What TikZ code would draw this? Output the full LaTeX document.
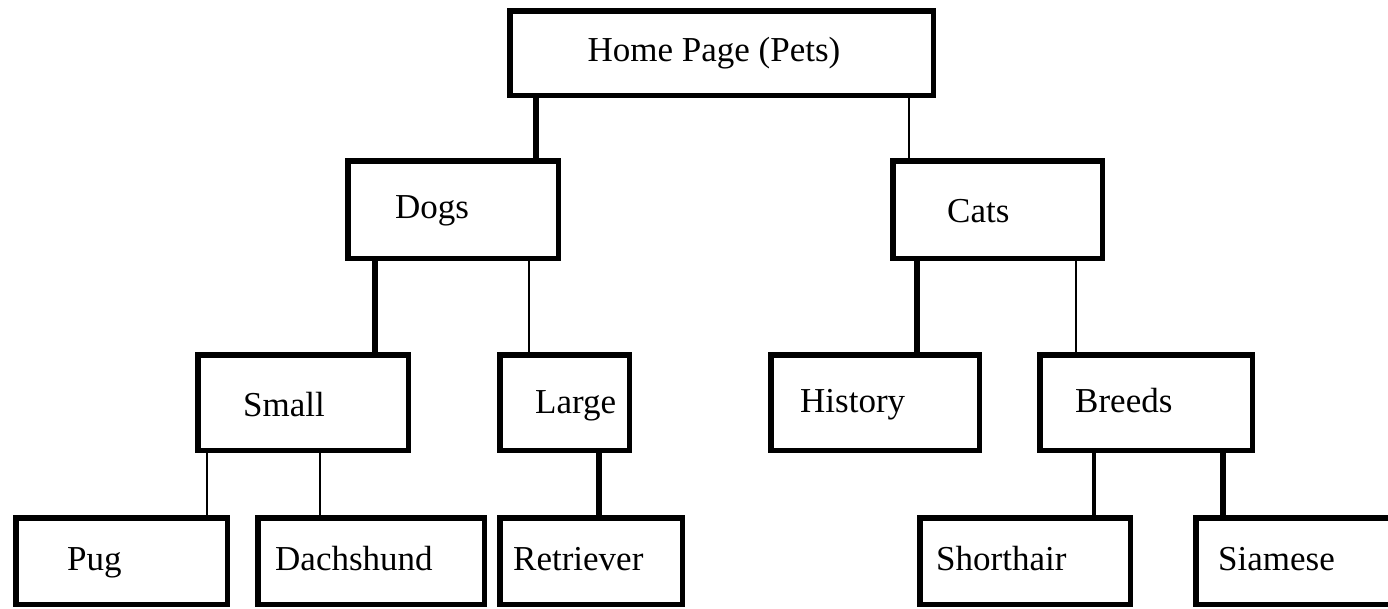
\documentclass[tikz,border=0pt]{standalone}
\usepackage{fontspec}
\setmainfont{Liberation Serif}
\begin{document}
\begin{tikzpicture}[x=1pt,y=-1pt,
  box/.style={draw=black, line width=5.5pt, rectangle, inner sep=0pt},
  lbl/.style={inner sep=0pt, anchor=base west, font=\fontsize{35}{40}\selectfont},
  heavy/.style={draw=black, line width=6pt},
  light/.style={draw=black, line width=2pt},
  medium/.style={draw=black, line width=3.5pt}]
\clip (0,0) rectangle (1388,608);
\fill[white] (0,0) rectangle (1388,608);

% level 0
\node[box, minimum width=423.5pt, minimum height=84.5pt] (home) at (721.5,53) {};
% level 1
\node[box, minimum width=210.5pt, minimum height=97.5pt] (dogs) at (453,209.5) {};
\node[box, minimum width=209.5pt, minimum height=97.5pt] (cats) at (997.5,209.5) {};
% level 2
\node[box, minimum width=210.5pt, minimum height=95.5pt] (small) at (303,402.5) {};
\node[box, minimum width=129.5pt, minimum height=95.5pt] (large) at (564.5,402.5) {};
\node[box, minimum width=208.5pt, minimum height=95.5pt] (history) at (875,402.5) {};
\node[box, minimum width=212.5pt, minimum height=95.5pt] (breeds) at (1146,402.5) {};
% level 3
\node[box, minimum width=211.5pt, minimum height=86.5pt] (pug) at (121.5,561) {};
\node[box, minimum width=226.5pt, minimum height=86.5pt] (dachshund) at (371,561) {};
\node[box, minimum width=182.5pt, minimum height=86.5pt] (retriever) at (591,561) {};
\node[box, minimum width=210.5pt, minimum height=86.5pt] (shorthair) at (1025,561) {};
\node[box, minimum width=201.5pt, minimum height=86.5pt] (siamese) at (1296.5,561) {};

% labels
\node[lbl, anchor=base] (homeT) at (714,61) {Home Page (Pets)};
\node[lbl] (dogsT) at (395,218) {Dogs};
\node[lbl] (catsT) at (947,222) {Cats};
\node[lbl] (smallT) at (243,416) {Small};
\node[lbl] (largeT) at (535,413) {Large};
\node[lbl] (historyT) at (800,412) {History};
\node[lbl] (breedsT) at (1075,412) {Breeds};
\node[lbl] (pugT) at (67,570) {Pug};
\node[lbl] (dachshundT) at (275,570) {Dachshund};
\node[lbl] (retrieverT) at (513,570) {Retriever};
\node[lbl] (shorthairT) at (936,570) {Shorthair};
\node[lbl] (siameseT) at (1218,570) {Siamese};

% connectors
\draw[heavy]  (home.south -| 536,0)    -- (dogs.north -| 536,0);
\draw[light]  (home.south -| 909,0)    -- (cats.north -| 909,0);
\draw[heavy]  (dogs.south -| 375,0)    -- (small.north -| 375,0);
\draw[light]  (dogs.south -| 529,0)    -- (large.north -| 529,0);
\draw[heavy]  (cats.south -| 917,0)    -- (history.north -| 917,0);
\draw[light]  (cats.south -| 1076,0)   -- (breeds.north -| 1076,0);
\draw[light]  (small.south -| 207,0)   -- (pug.north -| 207,0);
\draw[light]  (small.south -| 320,0)   -- (dachshund.north -| 320,0);
\draw[heavy]  (large.south -| 599,0)   -- (retriever.north -| 599,0);
\draw[medium] (breeds.south -| 1094,0) -- (shorthair.north -| 1094,0);
\draw[heavy]  (breeds.south -| 1223,0) -- (siamese.north -| 1223,0);
\end{tikzpicture}
\end{document}
